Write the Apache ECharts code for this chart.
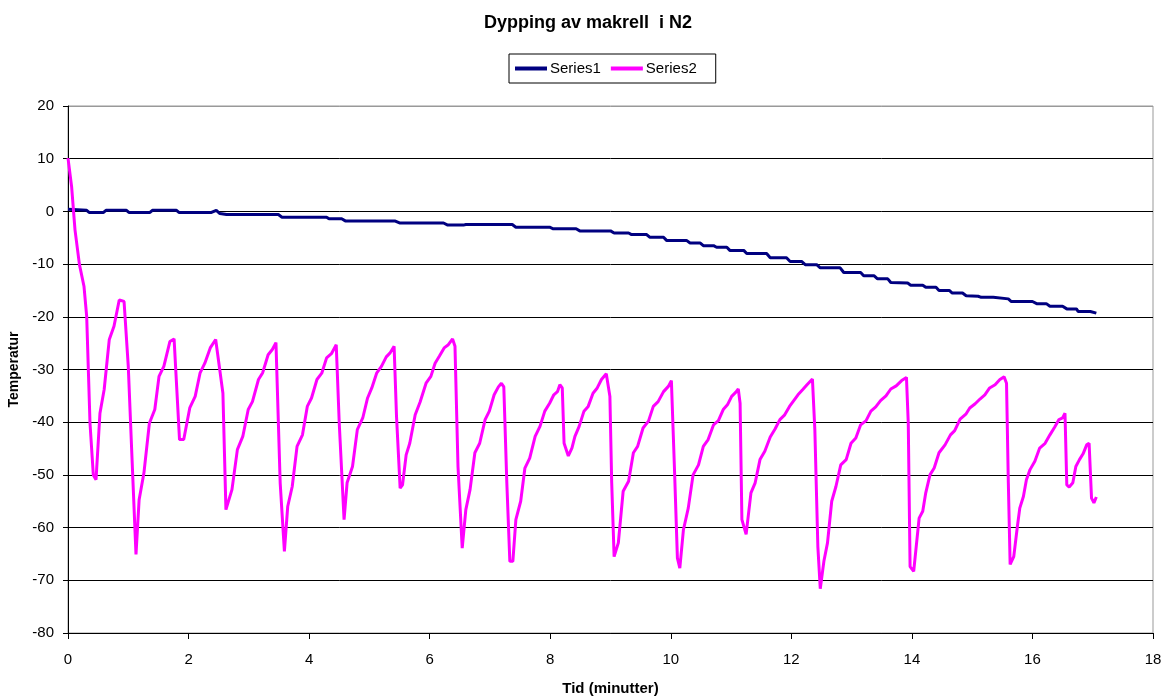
<!DOCTYPE html>
<html>
<head>
<meta charset="utf-8">
<script src="https://cdn.jsdelivr.net/npm/echarts@6/dist/echarts.min.js"></script>
<style>html,body{margin:0;padding:0;background:#fff}#c{width:1165px;height:697px}</style>
</head>
<body>
<div id="c"></div>
<script>
const chartTitle = 'Dypping av makrell  i N2';
const seriesNames = ['Series1', 'Series2'];
const xAxisName = 'Tid (minutter)';
const yAxisName = 'Temperatur';
const xRange = [0, 18, 2];
const yRange = [-80, 20, 10];

// Series1: [time (min), temperature]
const series1Points = [[0,0.4],[0.31,0.2],[0.35,-0.2],[0.59,-0.2],[0.63,0.2],[0.97,0.2],[1.01,-0.2],[1.36,-0.2],[1.40,0.2],[1.80,0.2],[1.84,-0.2],[2.38,-0.2],[2.46,0.2],[2.52,-0.4],[2.63,-0.6],[3.49,-0.6],[3.55,-1.1],[4.29,-1.1],[4.33,-1.4],[4.54,-1.4],[4.6,-1.8],[5.42,-1.8],[5.5,-2.2],[6.23,-2.2],[6.3,-2.6],[6.56,-2.6],[6.6,-2.5],[7.37,-2.5],[7.43,-3.0],[7.99,-3.0],[8.05,-3.3],[8.43,-3.3],[8.49,-3.7],[9.0,-3.7],[9.06,-4.1],[9.3,-4.1],[9.35,-4.4],[9.6,-4.4],[9.65,-4.9],[9.88,-4.9],[9.93,-5.5],[10.26,-5.5],[10.32,-6.0],[10.49,-6.0],[10.54,-6.5],[10.71,-6.5],[10.76,-6.8],[10.93,-6.8],[10.98,-7.4],[11.21,-7.4],[11.26,-8.0],[11.59,-8.0],[11.65,-8.8],[11.92,-8.8],[11.98,-9.5],[12.17,-9.5],[12.23,-10.1],[12.42,-10.1],[12.48,-10.7],[12.81,-10.7],[12.87,-11.6],[13.15,-11.6],[13.2,-12.2],[13.37,-12.2],[13.43,-12.8],[13.6,-12.8],[13.65,-13.5],[13.93,-13.6],[13.98,-14.0],[14.18,-14.0],[14.23,-14.4],[14.4,-14.4],[14.45,-15.0],[14.62,-15.0],[14.67,-15.5],[14.84,-15.5],[14.9,-16.0],[15.1,-16.1],[15.15,-16.3],[15.35,-16.3],[15.38,-16.6],[15.6,-16.6],[15.65,-17.1],[16.0,-17.1],[16.07,-17.5],[16.23,-17.5],[16.29,-18.0],[16.5,-18.0],[16.57,-18.5],[16.73,-18.5],[16.76,-19.0],[16.96,-19.0],[17.06,-19.3]];

// Series2: [time (min), temperature]
const series2Points = [[0,10.1],[0.06,4.7],[0.116,-3.5],[0.19,-10.1],[0.265,-14.2],[0.31,-19.9],[0.365,-40.2],[0.42,-50],[0.465,-50.9],[0.53,-38.3],[0.60,-33.8],[0.685,-24.3],[0.763,-21.8],[0.85,-16.8],[0.93,-17.1],[1.0,-29.4],[1.056,-45.2],[1.128,-65.1],[1.18,-54.7],[1.26,-49.6],[1.35,-40.2],[1.44,-37.6],[1.51,-31.3],[1.59,-29.4],[1.69,-24.7],[1.76,-24.2],[1.85,-43.3],[1.92,-43.3],[2.02,-37.3],[2.11,-35.1],[2.19,-30.7],[2.27,-28.8],[2.36,-25.9],[2.45,-24.3],[2.57,-34.5],[2.62,-56.6],[2.72,-52.8],[2.81,-45.2],[2.90,-42.7],[2.99,-37.6],[3.06,-36.1],[3.16,-31.9],[3.23,-30.6],[3.32,-27.2],[3.39,-26.2],[3.45,-24.9],[3.52,-51.5],[3.59,-64.5],[3.645,-56],[3.72,-52.2],[3.80,-44.6],[3.89,-42.4],[3.97,-37],[4.04,-35.4],[4.13,-31.9],[4.21,-30.7],[4.29,-27.8],[4.37,-27],[4.45,-25.3],[4.50,-40.2],[4.58,-58.5],[4.63,-51.5],[4.72,-48.4],[4.80,-41.4],[4.89,-39.2],[4.97,-35.4],[5.04,-33.5],[5.12,-30.7],[5.20,-29.4],[5.28,-27.6],[5.34,-26.9],[5.41,-25.6],[5.45,-38.9],[5.51,-52.5],[5.55,-51.9],[5.61,-46.2],[5.67,-44],[5.76,-38.6],[5.84,-36.2],[5.94,-32.6],[6.02,-31.3],[6.09,-28.8],[6.16,-27.5],[6.24,-25.9],[6.31,-25.3],[6.38,-24.2],[6.42,-25.6],[6.47,-48.4],[6.54,-63.9],[6.60,-56.6],[6.67,-52.8],[6.75,-45.8],[6.83,-44],[6.92,-39.5],[6.99,-37.9],[7.07,-34.8],[7.14,-33.3],[7.19,-32.6],[7.23,-33.3],[7.28,-51.5],[7.33,-66.4],[7.38,-66.4],[7.43,-58.5],[7.51,-55],[7.58,-48.7],[7.66,-46.8],[7.75,-42.7],[7.83,-40.8],[7.91,-37.9],[7.99,-36.4],[8.06,-34.8],[8.12,-34.2],[8.16,-32.9],[8.20,-33.5],[8.23,-44],[8.30,-46.4],[8.36,-44.9],[8.41,-42.7],[8.48,-40.8],[8.56,-37.9],[8.63,-37],[8.71,-34.5],[8.78,-33.5],[8.85,-31.9],[8.93,-30.8],[8.96,-30.6],[8.99,-35.1],[9.02,-51.5],[9.06,-65.5],[9.13,-62.9],[9.21,-53.1],[9.30,-51.2],[9.38,-45.8],[9.45,-44.6],[9.54,-41.1],[9.63,-39.8],[9.71,-37],[9.79,-36.1],[9.88,-34.2],[9.96,-33.2],[10.01,-32.1],[10.06,-48.4],[10.11,-65.8],[10.15,-67.7],[10.21,-60.4],[10.29,-56.3],[10.37,-50],[10.46,-48.1],[10.54,-44.6],[10.62,-43.3],[10.71,-40.5],[10.79,-39.7],[10.87,-37.6],[10.94,-36.7],[11.01,-35.1],[11.08,-34.3],[11.12,-33.7],[11.15,-36.4],[11.18,-58.5],[11.25,-61.3],[11.33,-53.4],[11.40,-51.5],[11.48,-47.1],[11.56,-45.5],[11.65,-42.8],[11.73,-41.3],[11.81,-39.5],[11.89,-38.6],[11.97,-37],[12.04,-35.9],[12.11,-34.8],[12.19,-33.8],[12.26,-32.9],[12.35,-31.8],[12.39,-41.4],[12.44,-63.6],[12.48,-71.6],[12.54,-66.4],[12.60,-62.9],[12.67,-55],[12.74,-52.2],[12.82,-48.1],[12.91,-47.1],[12.99,-44],[13.07,-43],[13.15,-40.5],[13.24,-39.7],[13.32,-37.9],[13.40,-37.1],[13.48,-35.9],[13.57,-35],[13.65,-33.7],[13.74,-33.1],[13.83,-32.1],[13.91,-31.5],[13.94,-40.2],[13.97,-67.4],[14.03,-68.3],[14.12,-58.2],[14.18,-56.9],[14.23,-53.4],[14.30,-50],[14.37,-48.7],[14.45,-45.8],[14.55,-44.3],[14.64,-42.4],[14.71,-41.6],[14.80,-39.4],[14.90,-38.4],[14.96,-37.3],[15.05,-36.5],[15.13,-35.6],[15.21,-34.8],[15.29,-33.5],[15.38,-32.9],[15.46,-31.9],[15.53,-31.4],[15.57,-32.6],[15.60,-51.5],[15.63,-67],[15.69,-65.5],[15.75,-59.8],[15.79,-56.3],[15.85,-54.1],[15.90,-50.9],[15.96,-49],[16.04,-47.4],[16.12,-44.9],[16.21,-44],[16.29,-42.4],[16.37,-40.9],[16.44,-39.5],[16.50,-39.2],[16.54,-38.3],[16.57,-51.9],[16.61,-52.3],[16.67,-51.5],[16.72,-48.4],[16.78,-47.1],[16.84,-46],[16.90,-44.3],[16.94,-44],[16.98,-54.4],[17.02,-55.3],[17.06,-54.2]];

const seriesColors = ['#000080', '#FF00FF'];

const FONT = '"Liberation Sans", Arial, sans-serif';
const nY = Math.round((yRange[1] - yRange[0]) / yRange[2]) + 1;
const splitColors = [];
for (let i = 0; i < nY; i++) splitColors.push(i === nY - 1 ? '#999999' : '#000000');

const chart = echarts.init(document.getElementById('c'), null, {renderer: 'canvas'});
chart.setOption({
  animation: false,
  backgroundColor: '#ffffff',
  title: {
    text: chartTitle,
    left: 484,
    top: 14,
    padding: 0,
    textStyle: {fontFamily: FONT, fontSize: 18, fontWeight: 'bold', color: '#000'}
  },
  legend: {
    data: seriesNames,
    top: 54,
    left: 509,
    orient: 'horizontal',
    itemGap: 10,
    itemWidth: 32,
    itemHeight: 4,
    icon: 'rect',
    padding: [7, 19, 7, 6],
    borderColor: '#000',
    borderWidth: 1,
    textStyle: {fontFamily: FONT, fontSize: 15, color: '#000', padding: [0, 0, 0, -2]}
  },
  grid: {
    left: 68, right: 12, top: 106, bottom: 64,
    outerBoundsMode: 'none',
    show: true, borderColor: '#999999', borderWidth: 1, backgroundColor: 'transparent',
    containLabel: false
  },
  xAxis: {
    type: 'value',
    min: xRange[0], max: xRange[1], interval: xRange[2],
    name: xAxisName,
    nameLocation: 'middle',
    nameGap: 48,
    nameTextStyle: {fontFamily: FONT, fontSize: 15, fontWeight: 'bold', color: '#000'},
    axisLine: {show: true, onZero: false, lineStyle: {color: '#000', width: 1}},
    axisTick: {show: true, length: 6, lineStyle: {color: '#000'}},
    axisLabel: {fontFamily: FONT, fontSize: 15, color: '#000', margin: 19},
    splitLine: {show: false}
  },
  yAxis: {
    type: 'value',
    min: yRange[0], max: yRange[1], interval: yRange[2],
    name: yAxisName,
    nameLocation: 'middle',
    nameRotate: 90,
    nameGap: 43,
    nameTextStyle: {fontFamily: FONT, fontSize: 14, fontWeight: 'bold', color: '#000'},
    axisLine: {show: true, onZero: false, lineStyle: {color: '#000', width: 1}},
    axisTick: {show: true, length: 5, lineStyle: {color: '#000'}},
    axisLabel: {fontFamily: FONT, fontSize: 15, color: '#000', margin: 14},
    splitLine: {show: true, lineStyle: {color: splitColors, width: 1}}
  },
  series: [
    {
      name: seriesNames[0], type: 'line', data: series1Points,
      showSymbol: false, symbol: 'none', smooth: false,
      lineStyle: {color: seriesColors[0], width: 3},
      itemStyle: {color: seriesColors[0]}
    },
    {
      name: seriesNames[1], type: 'line', data: series2Points,
      showSymbol: false, symbol: 'none', smooth: false,
      lineStyle: {color: seriesColors[1], width: 3},
      itemStyle: {color: seriesColors[1]}
    }
  ]
});
</script>
</body>
</html>
